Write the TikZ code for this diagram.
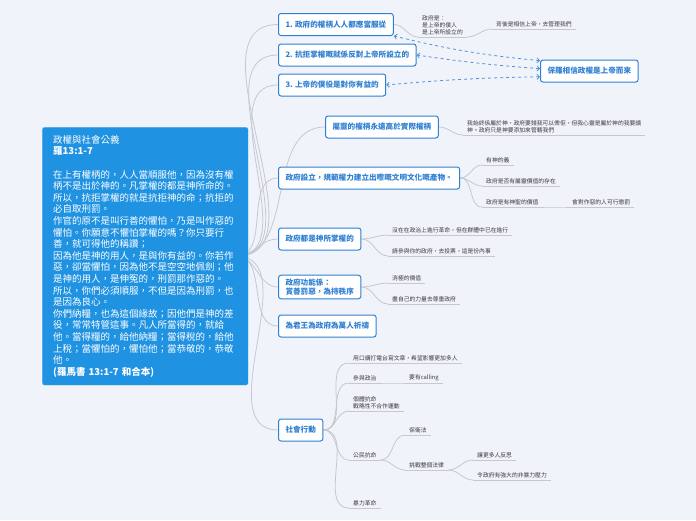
\documentclass[tikz,border=0pt]{standalone}
\usepackage{fontspec}
\setmainfont{Noto Sans CJK TC}
\usetikzlibrary{arrows.meta,calc,backgrounds}
\definecolor{bgpale}{HTML}{F1F3FB}
\definecolor{rootblue}{HTML}{2092E2}
\definecolor{topicblue}{HTML}{2F80D2}
\definecolor{linegrey}{HTML}{C6C8CE}
\definecolor{leaftext}{HTML}{3C3C3C}

\begin{document}
\begin{tikzpicture}[x=1pt,y=-1pt,>={Straight Barb[length=2.5pt,width=5pt]},
    root/.style={fill=rootblue,draw=white!70!rootblue,rounded corners=2pt,text=white,anchor=north west,
        inner sep=0pt,minimum width=206pt,minimum height=258pt,text width=184pt,align=left,
        font=\fontsize{9.5}{11.6}\selectfont},
    topic/.style={draw=topicblue,line width=1pt,fill=white,rounded corners=2.5pt,text=topicblue,
        anchor=west,minimum height=22pt,inner xsep=7pt,align=left,
        font=\fontsize{7.6}{9.5}\selectfont\bfseries},
    leaf/.style={anchor=south west,text=leaftext,inner xsep=4pt,inner ysep=1.5pt,align=left,
        font=\fontsize{5.8}{7.4}\selectfont},
    branch/.style={draw=linegrey,line width=0.8pt},
    link/.style={draw=topicblue!85,dashed,line width=0.8pt,<->}]

    \node[root] (root) at (42,127) {政權與社會公義\\
        \textbf{羅13:1-7}\\[11.6pt]
        在上有權柄的，人人當順服他，因為沒有權\\
        柄不是出於神的。凡掌權的都是神所命的。\\
        所以，抗拒掌權的就是抗拒神的命；抗拒的\\
        必自取刑罰。\\
        作官的原不是叫行善的懼怕，乃是叫作惡的\\
        懼怕。你願意不懼怕掌權的嗎？你只要行\\
        善，就可得他的稱讚；\\
        因為他是神的用人，是與你有益的。你若作\\
        惡，卻當懼怕，因為他不是空空地佩劍；他\\
        是神的用人，是伸冤的，刑罰那作惡的。\\
        所以，你們必須順服，不但是因為刑罰，也\\
        是因為良心。\\
        你們納糧，也為這個緣故；因他們是神的差\\
        役，常常特管這事。凡人所當得的，就給\\
        他。當得糧的，給他納糧；當得稅的，給他\\
        上稅；當懼怕的，懼怕他；當恭敬的，恭敬\\
        他。\\
        \textbf{(羅馬書 13:1-7 和合本)}};

    \node[topic] (n1) at (278,24.5) {1. 政府的權柄人人都應當服從};
    \node[topic] (n2) at (278,55) {2. 抗拒掌權嘅就係反對上帝所設立的};
    \node[topic] (n3) at (278,85) {3. 上帝的僕役是對你有益的};
    \node[topic] (paul) at (540,71) {保羅相信政權是上帝而來};
    \node[topic] (n4) at (325,127) {屬靈的權柄永遠高於實際權柄};
    \node[topic] (n5) at (278,178) {政府設立，規範權力建立出嚟嘅文明文化嘅產物。};
    \node[topic] (n6) at (278,239) {政府都是神所掌權的};
    \node[topic] (n7) at (278,287) {政府功能係：\\賞善罰惡，為持秩序};
    \node[topic] (n8) at (278,326) {為君王為政府為萬人祈禱};
    \node[topic] (n9) at (278,430) {社會行動};

    \node[leaf] (l1) at (418,37) {政府是：\\是上帝的僕人\\是上帝所設立的};
    \node[leaf] (l2) at (492,29) {背後是相信上帝，去管理我們};
    \node[leaf] (l3) at (463,135) {我始終係屬於神，政府要錢我可以俾佢，但我心靈是屬於神的我要讀\\神。政府只是神要添加來管轄我們};
    \node[leaf] (l4) at (482,165) {有神的義};
    \node[leaf] (l5) at (482,186) {政府是否有屬靈價值的存在};
    \node[leaf] (l6) at (482,207) {政府是有神聖的價值};
    \node[leaf] (l7) at (568,207) {會對作惡的人可行懲罰};
    \node[leaf] (l8) at (388,235) {沒在在政治上進行革命，但在群體中已在進行};
    \node[leaf] (l9) at (388,256) {請參與你的政府，去投票，這是份內事};
    \node[leaf] (l10) at (388,283) {消極的價值};
    \node[leaf] (l11) at (388,304) {盡自己的力量去尊重政府};
    \node[leaf] (s1) at (349,363) {用口講打電台寫文章，希望影響更加多人};
    \node[leaf] (s2) at (349,383) {參與政治};
    \node[leaf] (s3) at (405,383) {要有calling};
    \node[leaf] (s4) at (349,411) {個體抗命\\戰略性不合作運動};
    \node[leaf] (s5) at (349,460) {公民抗命};
    \node[leaf] (s6) at (405,435) {保衛法};
    \node[leaf] (s7) at (405,470) {挑戰整個法律};
    \node[leaf] (s8) at (473,460) {讓更多人反思};
    \node[leaf] (s9) at (473,480) {令政府有強大的非暴力壓力};
    \node[leaf] (s10) at (349,508) {暴力革命};

    \begin{pgfonlayer}{background}
        \fill[bgpale] (0,0) rectangle (696,520);
        \foreach \t in {n1,n2,n3,n4,n5,n6,n7,n8,n9}
            \draw[branch] ($(root.east)+(-12,0)$) to[out=0,in=180] (\t.west);
        \foreach \a/\b in {n1/l1,n4/l3,n5/l4,n5/l5,n5/l6,n6/l8,n6/l9,n7/l10,n7/l11,
                n9/s1,n9/s2,n9/s4,n9/s5,n9/s10}
            \draw[branch] (\a.east) to[out=0,in=180] (\b.south west);
        \foreach \a/\b in {l1/l2,l6/l7,s2/s3,s5/s6,s5/s7,s7/s8,s7/s9}
            \draw[branch] (\a.south east) to[out=0,in=180] (\b.south west);
        \foreach \n in {l1,l2,l3,l4,l5,l6,l7,l8,l9,l10,l11,s1,s2,s3,s4,s5,s6,s7,s8,s9,s10}
            \draw[branch] (\n.south west) -- (\n.south east);
    \end{pgfonlayer}

    \draw[link] ($(paul.north west)!0.05!(paul.south west)$) to[bend left=4] (n1.south east);
    \draw[link] ($(paul.north west)!0.4!(paul.south west)$) to[bend left=2] (n2.east);
    \draw[link] ($(paul.north west)!0.75!(paul.south west)$) to[bend right=2] (n3.east);
\end{tikzpicture}
\end{document}
